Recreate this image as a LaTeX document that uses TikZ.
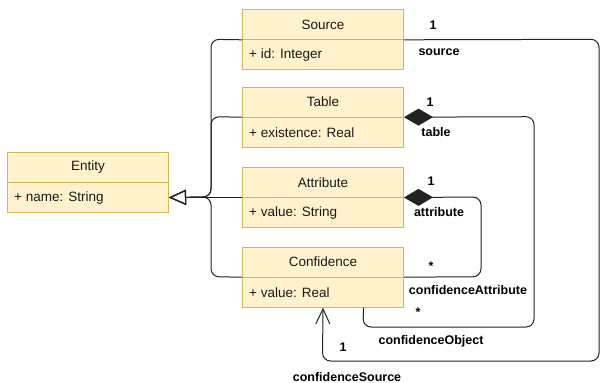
\documentclass[tikz,border=0pt]{standalone}
\usepackage{fontspec}
\setmainfont{Liberation Sans}
\usetikzlibrary{arrows.meta,calc}
\definecolor{classfill}{HTML}{FFF2CC}
\definecolor{classline}{HTML}{D6B656}
\definecolor{wire}{HTML}{222222}
\definecolor{ink}{HTML}{1A1A1A}
\tikzset{
  classbox/.style={draw=classline, fill=classfill, line width=1pt, minimum width=161pt, minimum height=60pt, inner sep=0pt},
  classtitle/.style={font=\fontsize{13.5}{15}\selectfont, text=ink, inner sep=0pt, anchor=center},
  classattr/.style={font=\fontsize{13.5}{15}\selectfont, text=ink, inner sep=0pt, anchor=west},
  rolelabel/.style={font=\bfseries\fontsize{12.5}{14}\selectfont, inner sep=0pt, anchor=center},
  assoc/.style={draw=wire, line width=1pt, rounded corners=8pt},
  inherit/.style={assoc, -{Triangle[open, length=17pt, width=15pt, line width=1pt]}},
  compose/.style={assoc, {Diamond[length=29pt, width=17pt]}-},
  navig/.style={assoc, -{Straight Barb[length=15pt, width=14pt, line width=1pt]}}
}
\newcommand{\umlclass}[5]{%
  % #1 name, #2 left x, #3 top y, #4 title, #5 attribute
  \node[classbox, anchor=north west] (#1) at (#2,#3) {};
  \draw[classline, line width=1pt] (#1.west) -- (#1.east);
  \node[classtitle] (#1-title) at ($(#1.north)!0.5!(#1.center)$) {#4};
  \node[classattr] (#1-attr) at ([xshift=7pt]$(#1.west)!0.5!(#1.south west)$) {#5};
}
\begin{document}
\begin{tikzpicture}[x=1pt, y=-1pt]
\useasboundingbox (0,0) rectangle (600,383);

% classes
\umlclass{entity}{7}{152}{Entity}{+ name: String}
\umlclass{source}{242}{9.3}{Source}{+ id: Integer}
\umlclass{table}{242}{86.7}{Table}{+ existence: Real}
\umlclass{attribute}{242}{167}{Attribute}{+ value: String}
\umlclass{confidence}{242}{246.7}{Confidence}{+ value: Real}

% generalisations into Entity
\coordinate (gen) at (entity.east |- attribute.west);
\draw[inherit] (source.west) -- (211,39.3) -- (211,197) -- (gen);
\draw[inherit] (table.west) -- (211,116.7) -- (211,197) -- (gen);
\draw[inherit] (attribute.west) -- (gen);
\draw[inherit] (confidence.west) -- (211,276.7) -- (211,197) -- (gen);

% source association
\draw[navig] (source.east) -- (599,39.3) -- (599,361) -- (322.5,361) -- (confidence.south);
% table composition
\draw[compose] (table.east) -- (534,116.7) -- (534,327) -- (363,327) -- ([xshift=40.5pt]confidence.south);
% attribute composition
\draw[compose] (attribute.east) -- (481,197) -- (481,276.7) -- (confidence.east);

% role names and multiplicities
\node[rolelabel] (m-src) at (433,25) {1};
\node[rolelabel] (r-src) at (439,52) {source};
\node[rolelabel] (m-tab) at (430,102) {1};
\node[rolelabel] (r-tab) at (436,132) {table};
\node[rolelabel] (m-att) at (431,181) {1};
\node[rolelabel] (r-att) at (439,212) {attribute};
\node[rolelabel] (m-ca) at (431,266) {*};
\node[rolelabel] (r-ca) at (468,290) {confidenceAttribute};
\node[rolelabel] (m-co) at (418,312) {*};
\node[rolelabel] (r-co) at (431,341) {confidenceObject};
\node[rolelabel] (m-cs) at (343,347) {1};
\node[rolelabel] (r-cs) at (347,377) {confidenceSource};
\end{tikzpicture}
\end{document}
